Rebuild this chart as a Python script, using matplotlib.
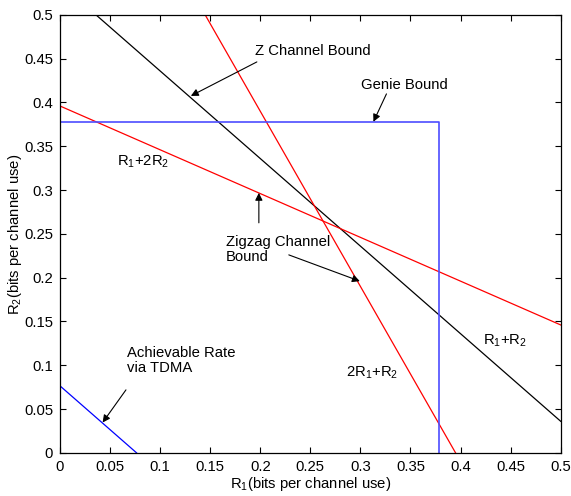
import numpy as np
import matplotlib
matplotlib.use('Agg')
import matplotlib.pyplot as plt
from matplotlib.ticker import MultipleLocator, FormatStrFormatter

plt.rcParams['font.family'] = ['Liberation Sans', 'DejaVu Sans']
plt.rcParams['mathtext.default'] = 'regular'
plt.rcParams['font.size'] = 10.7

# bound values (R1, R2 in bits per channel use)
Z_SUM = 0.536           # R1 + R2
ZIGZAG_2R1_R2 = 0.79    # 2R1 + R2
ZIGZAG_R1_2R2 = 0.792   # R1 + 2R2
GENIE = 0.378           # R1, R2 <= genie
TDMA = 0.0765           # R1 + R2 for TDMA

r1 = np.array([0.0, 0.5])


def main():
    fig = plt.figure(figsize=(5.71, 4.96), dpi=100)
    ax = fig.add_axes([0.105, 0.087, 0.877, 0.883])

    ax.plot(r1, Z_SUM - r1, color='k', lw=0.9)
    ax.plot(r1, ZIGZAG_2R1_R2 - 2 * r1, color='r', lw=0.9)
    ax.plot(r1, (ZIGZAG_R1_2R2 - r1) / 2, color='r', lw=0.9)
    ax.plot([0, GENIE, GENIE], [GENIE, GENIE, 0], color='#4d4dff', lw=1.2)
    ax.plot([0, TDMA], [TDMA, 0], color='b', lw=0.9)

    ax.set_xlim(0, 0.5)
    ax.set_ylim(0, 0.5)
    for axis in (ax.xaxis, ax.yaxis):
        axis.set_major_locator(MultipleLocator(0.05))
        axis.set_major_formatter(FormatStrFormatter('%g'))
    ax.tick_params(direction='in', top=True, right=True, length=4, width=0.8, pad=5)
    for s in ax.spines.values():
        s.set_linewidth(0.9)

    ax.set_xlabel('R$_1$(bits per channel use)', labelpad=1)
    ax.set_ylabel('R$_2$(bits per channel use)', labelpad=0)

    arrow = dict(arrowstyle='-|>', color='k', lw=0.8, mutation_scale=11, shrinkA=0, shrinkB=0)

    def note(text, pos, tail=None, tip=None):
        ax.text(pos[0], pos[1], text, ha='left', va='center', linespacing=1.1)
        if tail is not None:
            ax.annotate('', xy=tip, xytext=tail, arrowprops=arrow)

    note('Z Channel Bound', (0.1946, 0.459), (0.1966, 0.4463), (0.1307, 0.4075))
    note('Genie Bound', (0.3004, 0.420), (0.326, 0.4098), (0.313, GENIE))
    note('R$_1$+2R$_2$', (0.0569, 0.332))
    note('Zigzag Channel\nBound', (0.1657, 0.2325), (0.1986, 0.2626), (0.1986, 0.2968))
    ax.annotate('', xy=(0.2994, 0.196), xytext=(0.2285, 0.226), arrowprops=arrow)
    note('R$_1$+R$_2$', (0.422, 0.128))
    note('2R$_1$+R$_2$', (0.2854, 0.0915))
    note('Achievable Rate\nvia TDMA', (0.0669, 0.105), (0.0659, 0.0719), (0.0426, 0.0346))

    fig.savefig('out.png', dpi=100)


if __name__ == '__main__':
    main()
